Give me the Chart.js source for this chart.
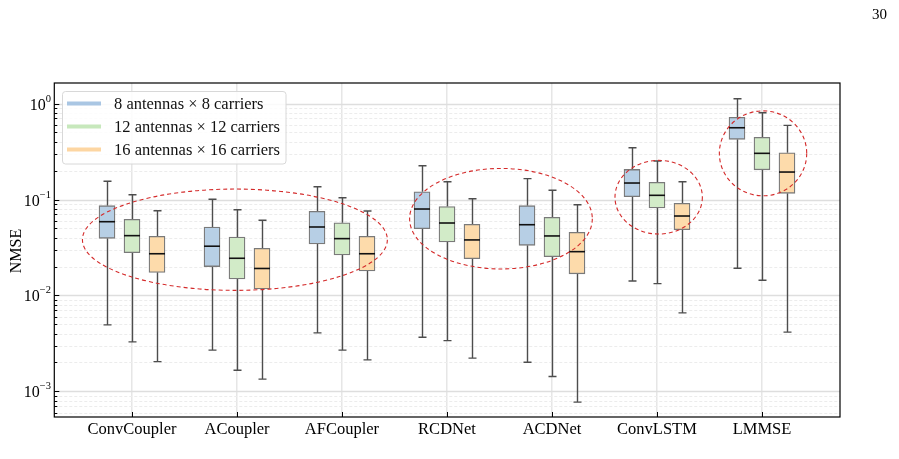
<!DOCTYPE html>
<html>
<head>
<meta charset="utf-8">
<script src="https://cdn.jsdelivr.net/npm/chart.js@4"></script>
<style>
  html, body { margin:0; padding:0; background:#fff; }
  #wrap { position:relative; width:899px; height:459px; }
</style>
</head>
<body>
<div id="wrap"><canvas id="nmseBoxChart" width="899" height="459"></canvas></div>
<script>
/* =========================
   DATA
========================= */

const models = ["ConvCoupler","ACoupler","AFCoupler","RCDNet","ACDNet","ConvLSTM","LMMSE"];

const seriesNames = [
    "8 antennas \u00d7 8 carriers",
    "12 antennas \u00d7 12 carriers",
    "16 antennas \u00d7 16 carriers"
];

// 8 x 8
const s8Min = [0.00493, 0.00269, 0.00407, 0.00367, 0.00201, 0.01416, 0.0192];
const s8Q1  = [0.0394, 0.0200, 0.0344, 0.0497, 0.0333, 0.107, 0.424];
const s8Med = [0.0587, 0.0326, 0.0517, 0.0796, 0.0546, 0.1486, 0.560];
const s8Q3  = [0.0862, 0.0517, 0.0754, 0.1205, 0.0862, 0.206, 0.718];
const s8Max = [0.155, 0.1005, 0.136, 0.225, 0.165, 0.346, 1.122];

// 12 x 12
const s12Min = [0.00328, 0.00166, 0.00269, 0.00338, 0.00143, 0.01327, 0.0144];
const s12Q1  = [0.0279, 0.01485, 0.0264, 0.0361, 0.0254, 0.0815, 0.204];
const s12Med = [0.0420, 0.0244, 0.0391, 0.0569, 0.0417, 0.1106, 0.303];
const s12Q3  = [0.0622, 0.0407, 0.0573, 0.0846, 0.0653, 0.151, 0.445];
const s12Max = [0.112, 0.0783, 0.1044, 0.153, 0.1247, 0.252, 0.802];

// 16 x 16
const s16Min = [0.00204, 0.00134, 0.00213, 0.00222, 0.000772, 0.00657, 0.00414];
const s16Q1  = [0.0174, 0.0117, 0.0180, 0.0242, 0.0168, 0.0485, 0.116];
const s16Med = [0.0272, 0.0191, 0.0272, 0.0379, 0.0286, 0.0673, 0.1934];
const s16Q3  = [0.0414, 0.0310, 0.0414, 0.0552, 0.0455, 0.0913, 0.307];
const s16Max = [0.0764, 0.0607, 0.0759, 0.1019, 0.0883, 0.153, 0.593];

const yTickExponents = [0, -1, -2, -3];

// dashed highlight ellipses (center in category / value units)
const ringCenterX = [0.98, 3.514, 5.016, 6.01];
const ringCenterY = [0.0381, 0.0631, 0.1057, 0.303];
const ringHalfW   = [1.452, 0.87, 0.416, 0.416];
const ringHalfDec = [0.528, 0.524, 0.384, 0.443];


/* =========================
   STYLE
========================= */

const SERIF = "'Liberation Serif','DejaVu Serif',serif";

const series = [
    {min:s8Min,  q1:s8Q1,  med:s8Med,  q3:s8Q3,  max:s8Max,  fill:"#b7cfe5", legend:"#a9c6e3", shift:-0.238},
    {min:s12Min, q1:s12Q1, med:s12Med, q3:s12Q3, max:s12Max, fill:"#d2ebc8", legend:"#c7e8bc", shift:0},
    {min:s16Min, q1:s16Q1, med:s16Med, q3:s16Q3, max:s16Max, fill:"#fddbab", legend:"#fdd6a2", shift:0.238}
];

const BOX_W = 16;


/* =========================
   EXTRA DRAWING
========================= */

const boxExtras = {

    id:"boxExtras",

    beforeDatasetsDraw(chart){

        const {ctx, chartArea:a, scales:{x, y}} = chart;

        ctx.save();

        // horizontal grid
        for(let k = -4; k <= 0; k++){
            for(let m = 1; m <= 9; m++){
                const v = m * Math.pow(10, k);
                if(v < y.min || v > y.max) continue;
                const py = Math.round(y.getPixelForValue(v)) + 0.5;
                ctx.beginPath();
                if(m === 1){
                    ctx.setLineDash([]);
                    ctx.strokeStyle = "#dedede";
                    ctx.lineWidth = 1.5;
                }else{
                    ctx.setLineDash([3,2]);
                    ctx.strokeStyle = "#ececec";
                    ctx.lineWidth = 1;
                }
                ctx.moveTo(a.left, py);
                ctx.lineTo(a.right, py);
                ctx.stroke();
            }
        }
        ctx.setLineDash([]);

        // whiskers
        ctx.strokeStyle = "#4d4d4d";
        ctx.lineWidth = 1.4;
        series.forEach(s => {
            models.forEach((_, i) => {
                const px = Math.round(x.getPixelForValue(i + s.shift)) + 0.5;
                const yMin = y.getPixelForValue(s.min[i]);
                const yMax = y.getPixelForValue(s.max[i]);
                const yQ1 = y.getPixelForValue(s.q1[i]);
                const yQ3 = y.getPixelForValue(s.q3[i]);
                ctx.beginPath();
                ctx.moveTo(px, yQ3); ctx.lineTo(px, yMax);
                ctx.moveTo(px, yQ1); ctx.lineTo(px, yMin);
                ctx.moveTo(px - BOX_W / 4, yMax); ctx.lineTo(px + BOX_W / 4, yMax);
                ctx.moveTo(px - BOX_W / 4, yMin); ctx.lineTo(px + BOX_W / 4, yMin);
                ctx.stroke();
            });
        });

        ctx.restore();

    },

    afterDatasetsDraw(chart){

        const {ctx, chartArea:a, scales:{x, y}} = chart;

        ctx.save();

        // medians
        ctx.strokeStyle = "#111";
        ctx.lineWidth = 1.6;
        series.forEach(s => {
            models.forEach((_, i) => {
                const px = x.getPixelForValue(i + s.shift);
                const py = y.getPixelForValue(s.med[i]);
                ctx.beginPath();
                ctx.moveTo(px - BOX_W / 2, py);
                ctx.lineTo(px + BOX_W / 2, py);
                ctx.stroke();
            });
        });

        // red dashed ellipses
        ctx.strokeStyle = "#d42a2a";
        ctx.lineWidth = 1.1;
        ctx.setLineDash([4,3]);
        ringCenterX.forEach((cx, i) => {
            const px = x.getPixelForValue(cx);
            const rx = x.getPixelForValue(cx + ringHalfW[i]) - px;
            const py = y.getPixelForValue(ringCenterY[i]);
            const ry = py - y.getPixelForValue(ringCenterY[i] * Math.pow(10, ringHalfDec[i]));
            ctx.beginPath();
            ctx.ellipse(px, py, rx, ry, 0, 0, Math.PI * 2);
            ctx.stroke();
        });
        ctx.setLineDash([]);

        // frame
        ctx.strokeStyle = "#000";
        ctx.lineWidth = 1.2;
        ctx.strokeRect(a.left, a.top, a.right - a.left, a.bottom - a.top);

        // inward ticks
        ctx.lineWidth = 1;
        ctx.beginPath();
        for(let k = -4; k <= 0; k++){
            for(let m = 1; m <= 9; m++){
                const v = m * Math.pow(10, k);
                if(v < y.min || v > y.max) continue;
                const py = Math.round(y.getPixelForValue(v)) + 0.5;
                ctx.moveTo(a.left, py);
                ctx.lineTo(a.left + (m === 1 ? 5 : 3), py);
            }
        }
        models.forEach((_, i) => {
            const px = Math.round(x.getPixelForValue(i)) + 0.5;
            ctx.moveTo(px, a.bottom);
            ctx.lineTo(px, a.bottom - 5);
        });
        ctx.stroke();

        // y tick labels with superscripts
        ctx.fillStyle = "#000";
        ctx.textBaseline = "alphabetic";
        yTickExponents.forEach(e => {
            const py = y.getPixelForValue(Math.pow(10, e));
            const sup = e === 0 ? "0" : "\u2212" + Math.abs(e);
            ctx.font = "10.5px " + SERIF;
            ctx.textAlign = "right";
            const supW = ctx.measureText(sup).width;
            ctx.fillText(sup, 51, py - 2);
            ctx.font = "16px " + SERIF;
            ctx.fillText("10", 51 - supW, py + 6);
        });

        // y title
        ctx.save();
        ctx.translate(17, 251);
        ctx.rotate(-Math.PI / 2);
        ctx.font = "16px " + SERIF;
        ctx.textAlign = "center";
        ctx.textBaseline = "middle";
        ctx.fillText("NMSE", 0, 0);
        ctx.restore();

        // legend
        const lx = 62.5, ly = 91.5, lw = 223.5, lh = 72.5;
        ctx.fillStyle = "rgba(255,255,255,0.85)";
        ctx.strokeStyle = "#d8d8d8";
        ctx.lineWidth = 1;
        ctx.beginPath();
        ctx.roundRect(lx, ly, lw, lh, 3);
        ctx.fill();
        ctx.stroke();
        const rowY = [103.5, 126.5, 149.5];
        ctx.font = "16.5px " + SERIF;
        ctx.textAlign = "left";
        ctx.textBaseline = "middle";
        series.forEach((s, i) => {
            ctx.strokeStyle = s.legend;
            ctx.lineWidth = 4;
            ctx.beginPath();
            ctx.moveTo(67, rowY[i]);
            ctx.lineTo(101, rowY[i]);
            ctx.stroke();
            ctx.fillStyle = "#111";
            ctx.fillText(seriesNames[i], 114, rowY[i] + 1);
        });

        // page number
        ctx.font = "15px " + SERIF;
        ctx.textAlign = "right";
        ctx.textBaseline = "middle";
        ctx.fillStyle = "#000";
        ctx.fillText("30", 887, 15);

        ctx.restore();

    }

};


/* =========================
   CHART
========================= */

const canvas = document.getElementById("nmseBoxChart");

new Chart(canvas,{

    type:"bar",

    data:{

        datasets:series.map((s, k) => ({

            label:seriesNames[k],

            data:models.map((_, i) => ({x:i + s.shift, y:[s.q1[i], s.q3[i]]})),

            backgroundColor:s.fill,

            borderColor:"#7a7a7a",

            borderWidth:1.3,

            borderSkipped:false,

            barThickness:BOX_W,

            grouped:false

        }))

    },

    options:{

        responsive:false,

        animation:false,

        devicePixelRatio:1,

        layout:{
            padding:{top:83, right:59, left:0, bottom:0}
        },

        plugins:{
            legend:{display:false},
            tooltip:{enabled:false}
        },

        scales:{

            x:{

                type:"linear",

                offset:false,

                min:-0.74,

                max:6.743,

                afterBuildTicks:scale => {
                    scale.ticks = models.map((_, i) => ({value:i}));
                },

                afterFit:scale => { scale.height = 42; },

                ticks:{
                    callback:value => models[value],
                    font:{family:SERIF, size:16.5},
                    color:"#000",
                    padding:3,
                    maxRotation:0,
                    autoSkip:false
                },

                grid:{
                    color:"#e6e6e6",
                    lineWidth:1.5,
                    drawTicks:false,
                    offset:false
                },

                border:{display:false}

            },

            y:{

                type:"logarithmic",

                min:5.4e-4,

                max:1.64,

                afterFit:scale => { scale.width = 54.3; },

                ticks:{display:false},

                grid:{display:false},

                border:{display:false}

            }

        }

    },

    plugins:[boxExtras]

});
</script>
</body>
</html>
